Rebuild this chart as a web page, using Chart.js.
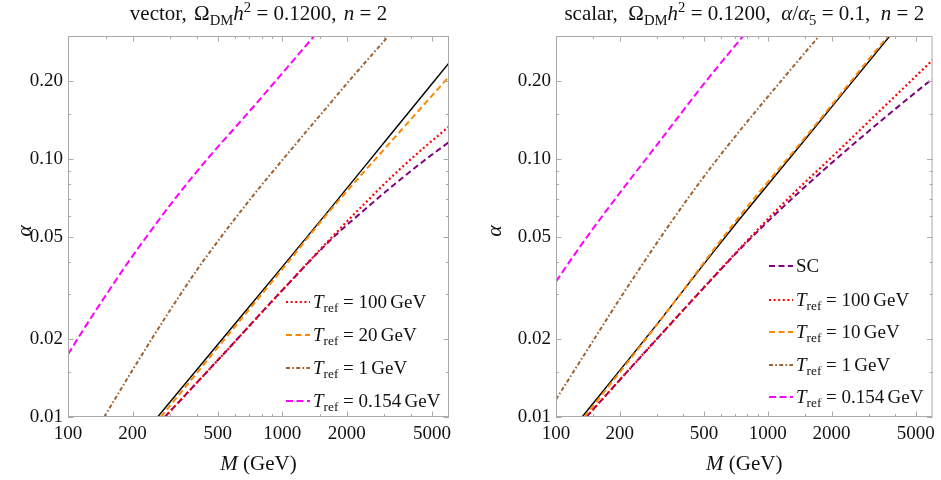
<!DOCTYPE html>
<html>
<head>
<meta charset="utf-8">
<script src="https://cdn.jsdelivr.net/npm/chart.js@4.4.0/dist/chart.umd.min.js"></script>
<style>
  body { margin: 0; background: #ffffff; }
  #wrap { position: relative; width: 941px; height: 480px; }
  canvas { position: absolute; top: 0; }
  #left { left: 0; }
  #right { left: 470px; }
</style>
</head>
<body>
<div id="wrap">
  <canvas id="left" width="470" height="480"></canvas>
  <canvas id="right" width="471" height="480"></canvas>
</div>
<script>
// axis ticks (log-log, same ranges on both panels)
const xTickVals = [100, 200, 500, 1000, 2000, 5000];
const xMinorVals = [150, 300, 400, 600, 700, 800, 900, 1500, 3000, 4000];
const yTickVals = [0.01, 0.02, 0.05, 0.1, 0.2];
const yTickLabels = ["0.01", "0.02", "0.05", "0.10", "0.20"];
const yMinorVals = [0.015, 0.03, 0.04, 0.06, 0.07, 0.08, 0.09, 0.15];

// ---- vector panel (left) ----
const vecBlackM = [262, 500, 1000, 1654, 3000, 6000];
const vecBlackA = [0.0100, 0.0191, 0.0382, 0.0634, 0.1164, 0.236];

const vecT20M = [271, 500, 1000, 1654, 2400, 3144, 4300, 6000];
const vecT20A = [0.0100, 0.0186, 0.0374, 0.0625, 0.0890, 0.1144, 0.1531, 0.2087];

const vecT100M = [283, 500, 1000, 1700, 2500, 3500, 4700, 6000];
const vecT100A = [0.0100, 0.0166, 0.0310, 0.0497, 0.0690, 0.0906, 0.1127, 0.1337];

const vecScM = [283, 500, 1000, 1700, 2500, 3500, 4700, 6000];
const vecScA = [0.0100, 0.0166, 0.0310, 0.0490, 0.0651, 0.0824, 0.1001, 0.1164];

const vecT1M = [147.5, 200, 250, 300, 400, 533, 700, 800, 1000, 1500, 2200, 3145, 4000];
const vecT1A = [0.0100, 0.0152, 0.0205, 0.0260, 0.0372, 0.0515, 0.0690, 0.0792, 0.0990, 0.1478, 0.2149, 0.301, 0.375];

const vecT0154M = [100, 120, 150, 190, 243, 309, 380, 450, 702, 1000, 1409, 2000];
const vecT0154A = [0.0175, 0.0223, 0.0296, 0.0396, 0.0526, 0.0686, 0.0851, 0.1007, 0.153, 0.215, 0.300, 0.42];

// ---- scalar panel (right) ----
const scaBlackM = [132.7, 300, 547, 724, 1500, 3769, 4500];
const scaBlackA = [0.0100, 0.0229, 0.0431, 0.0575, 0.1191, 0.300, 0.358];

const scaT10M = [136, 300, 724, 1500, 3700, 4500];
const scaT10A = [0.0100, 0.0228, 0.0590, 0.1210, 0.300, 0.362];

const scaT100M = [139, 300, 547, 764, 1200, 2100, 3500, 6000];
const scaT100A = [0.0100, 0.0201, 0.0345, 0.0464, 0.0681, 0.1055, 0.158, 0.242];

const scaScM = [139, 300, 547, 764, 1200, 2100, 3500, 6000];
const scaScA = [0.0100, 0.0201, 0.0344, 0.0460, 0.0660, 0.0999, 0.1428, 0.205];

const scaT1M = [100, 150, 200, 325, 500, 724, 1200, 1744, 2200];
const scaT1A = [0.0117, 0.0198, 0.0287, 0.0522, 0.0856, 0.1263, 0.2083, 0.299, 0.37];

const scaT0154M = [100, 120, 148, 200, 300, 500, 770, 1000];
const scaT0154A = [0.0335, 0.0417, 0.0531, 0.0739, 0.1136, 0.196, 0.302, 0.392];

const SERIF = '"Liberation Serif", "Times New Roman", serif';
const TEXT = "#111111";

// line styles
const styles = {
  black:   { color: "#000000", dash: [], width: 1.4 },
  sc:      { color: "#800080", dash: [6, 3.5], width: 2 },
  t100:    { color: "#ff0000", dash: [2, 2.6], width: 2.2 },
  t20:     { color: "#ff8800", dash: [6, 3.5], width: 2 },
  t1:      { color: "#a0612d", dash: [4, 2.3, 1.6, 2.3], width: 2 },
  t0154:   { color: "#ff00ff", dash: [7, 3.5], width: 2 }
};

function pts(m, a) {
  return m.map((v, i) => ({ x: v, y: a[i] }));
}

function line(m, a, st) {
  return {
    data: pts(m, a),
    borderColor: st.color,
    borderDash: st.dash,
    borderWidth: st.width,
    pointRadius: 0,
    fill: false,
    cubicInterpolationMode: "monotone"
  };
}

// rich text: [text, style] with style r, i, sub, sup, gap
function partFont(style, size) {
  if (style === "i") return "italic " + size + "px " + SERIF;
  if (style === "sub" || style === "sup") return (size * 0.7) + "px " + SERIF;
  return size + "px " + SERIF;
}

function partWidth(ctx, p, size) {
  if (p[1] === "gap") return p[0] * size;
  ctx.font = partFont(p[1], size);
  return ctx.measureText(p[0]).width;
}

function drawRich(ctx, parts, x, y, size, align) {
  let w = 0;
  parts.forEach(p => { w += partWidth(ctx, p, size); });
  let cx = align === "center" ? x - w / 2 : x;
  ctx.textAlign = "left";
  ctx.textBaseline = "alphabetic";
  ctx.fillStyle = TEXT;
  parts.forEach(p => {
    const pw = partWidth(ctx, p, size);
    if (p[1] !== "gap") {
      ctx.font = partFont(p[1], size);
      let dy = 0;
      if (p[1] === "sub") dy = size * 0.22;
      if (p[1] === "sup") dy = -size * 0.4;
      ctx.fillText(p[0], cx, y + dy);
    }
    cx += pw;
  });
}

function trefLabel(val) {
  return [["T", "i"], ["ref", "sub"], [" = " + val, "r"], [0.17, "gap"], ["GeV", "r"]];
}

// frame, inward ticks, titles and legend
const panelPlugin = {
  id: "panel",
  afterDraw(chart, args, opts) {
    const ctx = chart.ctx;
    const a = chart.chartArea;
    const xs = chart.scales.x;
    const ys = chart.scales.y;
    ctx.save();

    ctx.strokeStyle = "#a9a9a9";
    ctx.lineWidth = 1;
    ctx.setLineDash([]);
    ctx.strokeRect(a.left + 0.5, a.top + 0.5, a.right - a.left - 1, a.bottom - a.top - 1);

    function xTick(v, len) {
      const px = Math.round(xs.getPixelForValue(v)) + 0.5;
      ctx.beginPath();
      ctx.moveTo(px, a.bottom); ctx.lineTo(px, a.bottom - len);
      ctx.moveTo(px, a.top); ctx.lineTo(px, a.top + len);
      ctx.stroke();
    }
    function yTick(v, len) {
      const py = Math.round(ys.getPixelForValue(v)) + 0.5;
      ctx.beginPath();
      ctx.moveTo(a.left, py); ctx.lineTo(a.left + len, py);
      ctx.moveTo(a.right, py); ctx.lineTo(a.right - len, py);
      ctx.stroke();
    }
    xTickVals.forEach(v => xTick(v, 5.5));
    xMinorVals.forEach(v => xTick(v, 3));
    yTickVals.forEach(v => yTick(v, 5.5));
    yMinorVals.forEach(v => yTick(v, 3));

    // title
    const midX = (a.left + a.right) / 2;
    drawRich(ctx, opts.title, midX, 20, opts.titleSize, "center");

    // x axis title
    drawRich(ctx, [["M", "i"], [" (GeV)", "r"]], midX, 470, 21, "center");

    // y axis title (rotated)
    ctx.save();
    ctx.translate(opts.alphaX, 231);
    ctx.rotate(-Math.PI / 2);
    ctx.font = "italic 22px " + SERIF;
    ctx.fillStyle = TEXT;
    ctx.textAlign = "center";
    ctx.textBaseline = "middle";
    ctx.fillText("α", 0, 0);
    ctx.restore();

    // legend
    opts.legend.forEach((item, i) => {
      const y = opts.legendY[i];
      ctx.strokeStyle = item.st.color;
      ctx.lineWidth = item.st.width;
      ctx.setLineDash(item.st.dash);
      ctx.beginPath();
      ctx.moveTo(opts.legendX, y);
      ctx.lineTo(opts.legendX + 24, y);
      ctx.stroke();
      ctx.setLineDash([]);
      drawRich(ctx, item.parts, opts.legendX + 27, y + 6, 19, "left");
    });

    ctx.restore();
  }
};

function makePanel(id, datasets, yWidth, padRight, panelOpts) {
  const ctx = document.getElementById(id).getContext("2d");
  return new Chart(ctx, {
    type: "line",
    data: { datasets: datasets },
    options: {
      responsive: false,
      animation: false,
      devicePixelRatio: 1,
      layout: { padding: { top: 36, right: padRight, left: 0, bottom: 0 } },
      plugins: {
        legend: { display: false },
        tooltip: { enabled: false },
        panel: panelOpts
      },
      scales: {
        x: {
          type: "logarithmic",
          min: 100,
          max: 6000,
          grid: { display: false, drawTicks: false },
          border: { display: false },
          ticks: {
            font: { family: SERIF, size: 19 },
            color: TEXT,
            padding: 6,
            autoSkip: false,
            maxRotation: 0,
            callback: v => String(v)
          },
          afterBuildTicks: s => { s.ticks = xTickVals.map(v => ({ value: v })); },
          afterFit: s => { s.height = 63; }
        },
        y: {
          type: "logarithmic",
          min: 0.01,
          max: 0.3,
          grid: { display: false, drawTicks: false },
          border: { display: false },
          ticks: {
            font: { family: SERIF, size: 19 },
            color: TEXT,
            padding: 5,
            autoSkip: false,
            callback: (v, i) => yTickLabels[i]
          },
          afterBuildTicks: s => { s.ticks = yTickVals.map(v => ({ value: v })); },
          afterFit: s => { s.width = yWidth; }
        }
      }
    },
    plugins: [panelPlugin]
  });
}

// first dataset ends up on top
const vecSets = [
  line(vecT0154M, vecT0154A, styles.t0154),
  line(vecT1M, vecT1A, styles.t1),
  line(vecT20M, vecT20A, styles.t20),
  line(vecT100M, vecT100A, styles.t100),
  line(vecScM, vecScA, styles.sc),
  line(vecBlackM, vecBlackA, styles.black)
];

const scaSets = [
  line(scaT0154M, scaT0154A, styles.t0154),
  line(scaT1M, scaT1A, styles.t1),
  line(scaT10M, scaT10A, styles.t20),
  line(scaT100M, scaT100A, styles.t100),
  line(scaScM, scaScA, styles.sc),
  line(scaBlackM, scaBlackA, styles.black)
];

makePanel("left", vecSets, 68, 21, {
  title: [["vector,", "r"], [0.35, "gap"], ["Ω", "r"], ["DM", "sub"], ["h", "i"], ["2", "sup"],
          [" = 0.1200,", "r"], [0.35, "gap"], ["n", "i"], [" = 2", "r"]],
  titleSize: 21,
  alphaX: 25,
  legendX: 286,
  legendY: [302, 335, 368, 401],
  legend: [
    { st: styles.t100, parts: trefLabel("100") },
    { st: styles.t20, parts: trefLabel("20") },
    { st: styles.t1, parts: trefLabel("1") },
    { st: styles.t0154, parts: trefLabel("0.154") }
  ]
});

makePanel("right", scaSets, 86, 5, {
  title: [["scalar,", "r"], [0.5, "gap"], ["Ω", "r"], ["DM", "sub"], ["h", "i"], ["2", "sup"],
          [" = 0.1200,", "r"], [0.5, "gap"], ["α", "i"], ["/", "r"], ["α", "i"], ["5", "sub"],
          [" = 0.1,", "r"], [0.5, "gap"], ["n", "i"], [" = 2", "r"]],
  titleSize: 21,
  alphaX: 25,
  legendX: 299,
  legendY: [266, 300, 332, 365, 397],
  legend: [
    { st: styles.sc, parts: [["SC", "r"]] },
    { st: styles.t100, parts: trefLabel("100") },
    { st: styles.t20, parts: trefLabel("10") },
    { st: styles.t1, parts: trefLabel("1") },
    { st: styles.t0154, parts: trefLabel("0.154") }
  ]
});
</script>
</body>
</html>
